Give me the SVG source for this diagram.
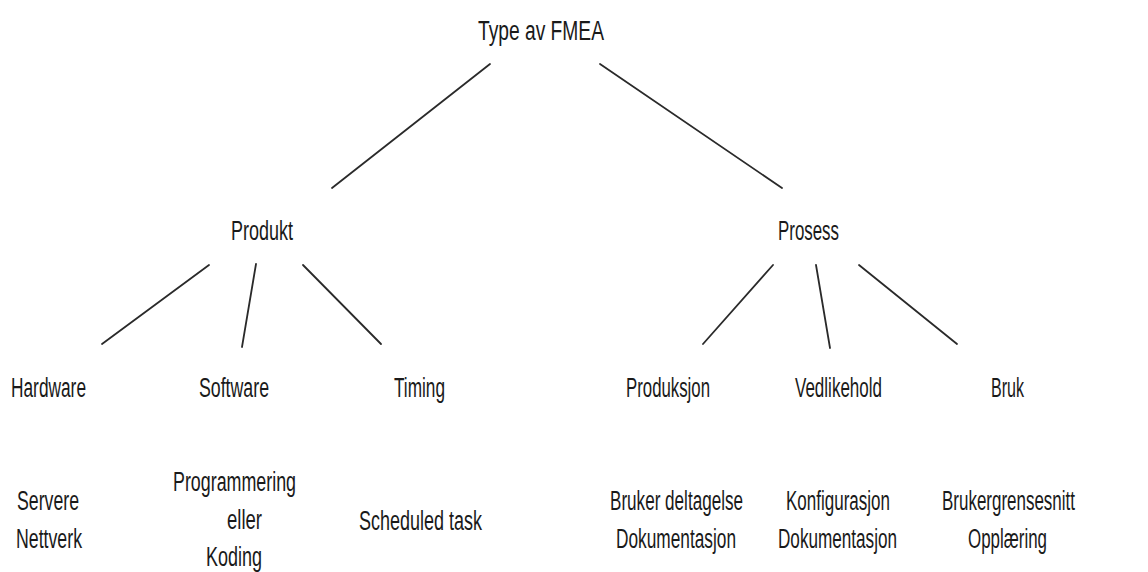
<svg xmlns="http://www.w3.org/2000/svg" width="1148" height="572" viewBox="0 0 1148 572">
<style>
text{font-family:"Liberation Sans",Arial,sans-serif;font-size:27px;fill:#1a1a1a}
.c line{stroke:#2a2a2a;stroke-width:1.8;stroke-linecap:round}
</style>
<rect width="1148" height="572" fill="#fff"/>
<g class="c" id="connectors">
<line x1="490" y1="64" x2="332" y2="188"/>
<line x1="600" y1="64" x2="782" y2="188"/>
<line x1="209" y1="265" x2="102" y2="344"/>
<line x1="256" y1="264" x2="242" y2="347"/>
<line x1="303" y1="265" x2="381" y2="344"/>
<line x1="773" y1="265" x2="703" y2="344"/>
<line x1="816" y1="265" x2="830" y2="348"/>
<line x1="859" y1="265" x2="957" y2="344"/>
</g>
<g id="root"><text x="478" y="40" textLength="126" lengthAdjust="spacingAndGlyphs">Type av FMEA</text></g>
<g id="produkt"><text x="231" y="240" textLength="62" lengthAdjust="spacingAndGlyphs">Produkt</text></g>
<g id="prosess"><text x="778" y="240" textLength="61" lengthAdjust="spacingAndGlyphs">Prosess</text></g>
<g id="hardware"><text x="11" y="397" textLength="75" lengthAdjust="spacingAndGlyphs">Hardware</text></g>
<g id="software"><text x="199" y="397" textLength="70" lengthAdjust="spacingAndGlyphs">Software</text></g>
<g id="timing"><text x="394" y="397" textLength="51" lengthAdjust="spacingAndGlyphs">Timing</text></g>
<g id="produksjon"><text x="626" y="397" textLength="84" lengthAdjust="spacingAndGlyphs">Produksjon</text></g>
<g id="vedlikehold"><text x="795" y="397" textLength="87" lengthAdjust="spacingAndGlyphs">Vedlikehold</text></g>
<g id="bruk"><text x="991" y="397" textLength="33" lengthAdjust="spacingAndGlyphs">Bruk</text></g>
<g id="hardware-detail">
<text x="17" y="510" textLength="62" lengthAdjust="spacingAndGlyphs">Servere</text>
<text x="16" y="548" textLength="66" lengthAdjust="spacingAndGlyphs">Nettverk</text>
</g>
<g id="software-detail">
<text x="173" y="491" textLength="123" lengthAdjust="spacingAndGlyphs">Programmering</text>
<text x="227" y="529" textLength="35" lengthAdjust="spacingAndGlyphs">eller</text>
<text x="206" y="566" textLength="56" lengthAdjust="spacingAndGlyphs">Koding</text>
</g>
<g id="timing-detail"><text x="359" y="530" textLength="123" lengthAdjust="spacingAndGlyphs">Scheduled task</text></g>
<g id="produksjon-detail">
<text x="610" y="510" textLength="133" lengthAdjust="spacingAndGlyphs">Bruker deltagelse</text>
<text x="616" y="548" textLength="120" lengthAdjust="spacingAndGlyphs">Dokumentasjon</text>
</g>
<g id="vedlikehold-detail">
<text x="786" y="510" textLength="104" lengthAdjust="spacingAndGlyphs">Konfigurasjon</text>
<text x="778" y="548" textLength="119" lengthAdjust="spacingAndGlyphs">Dokumentasjon</text>
</g>
<g id="bruk-detail">
<text x="942" y="510" textLength="133" lengthAdjust="spacingAndGlyphs">Brukergrensesnitt</text>
<text x="968" y="548" textLength="79" lengthAdjust="spacingAndGlyphs">Opplæring</text>
</g>
</svg>
